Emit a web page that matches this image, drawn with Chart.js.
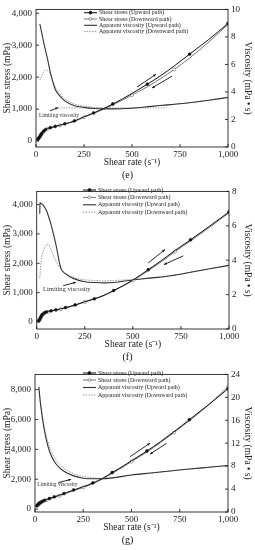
<!DOCTYPE html>
<html>
<head>
<meta charset="utf-8">
<script src="https://cdn.jsdelivr.net/npm/chart.js@4.4.0/dist/chart.umd.min.js"></script>
<style>
body{margin:0;background:#fff;width:255px;height:550px;overflow:hidden;position:relative}
.p{position:absolute;left:0;width:255px}
</style>
</head>
<body>
<div class="p" style="top:0"><canvas id="ce" width="255" height="182"></canvas></div>
<div class="p" style="top:182px"><canvas id="cf" width="255" height="183"></canvas></div>
<div class="p" style="top:365px"><canvas id="cg" width="255" height="185"></canvas></div>
<script>
// series names
const seriesLabels = ['Shear stress (Upward path)', 'Shear stress (Downward path)',
  'Apparent viscosity (Upward path)', 'Apparent viscosity (Downward path)'];

// shear rate (1/s) for the stress curves
const shearRates = [10,15,20,25,30,40,50,60,75,100,125,150,200,250,300,350,400,450,500,580,650,720,800,900,1000];
// rates where the markers are shown
const upMarks = [10,15,20,25,30,40,50,75,100,150,200,300,400,580,800,1000];
const downMarks = [10,15,20,25,30,40,60,125,250,500,720,1000];

// (e)
const stressUpE = [60,100,140,190,240,310,360,395,420,460,500,540,630,760,880,1010,1160,1320,1490,1780,2050,2350,2720,3180,3680];
const stressDownE = [50,90,130,180,230,300,350,385,410,450,490,530,615,745,865,990,1130,1280,1440,1700,1960,2240,2600,3100,3650];
const viscRatesE = [20,30,40,50,60,75,100,125,150,200,250,300,350,400,500,600,700,800,900,1000];
const viscUpE = [8.95,8.3,7.6,7.0,6.4,5.4,4.2,3.7,3.35,3.0,2.88,2.8,2.77,2.77,2.82,2.95,3.08,3.22,3.4,3.6];
const viscDownE = [4.85,5.2,5.45,5.6,5.55,5.3,4.35,3.85,3.5,3.12,2.98,2.88,2.82,2.8,2.82,2.95,3.08,3.22,3.4,3.6];
const limitRatesE = [115,680];
const limitViscE = [2.84,2.84];

// (f)
const stressUpF = [40,80,150,210,260,310,340,360,380,410,450,490,580,690,790,910,1070,1240,1430,1780,2100,2440,2800,3270,3750];
const stressDownF = [30,70,130,190,240,290,320,345,370,400,435,475,565,680,780,900,1060,1230,1410,1750,2060,2400,2760,3230,3720];
const viscRatesF = [16,17,20,30,40,50,60,75,100,125,150,200,250,300,350,400,500,600,700,800,900,1000];
const viscUpF = [6.7,7.35,7.3,7.25,7.1,6.9,6.6,6.05,4.9,3.55,3.2,2.9,2.75,2.7,2.68,2.7,2.85,2.97,3.1,3.3,3.5,3.7];
const viscDownF = [2.95,3.1,3.6,4.4,4.7,4.88,4.92,4.6,3.95,3.5,3.25,2.97,2.86,2.82,2.8,2.82,2.88,2.97,3.1,3.3,3.5,3.7];

// (g)
const stressUpG = [230,300,370,420,460,530,590,640,710,820,930,1040,1280,1500,1750,2060,2450,2830,3240,3890,4520,5180,5990,7000,8050];
const stressDownG = [200,270,330,380,420,490,550,600,670,780,890,1000,1230,1450,1700,2010,2390,2770,3180,3820,4450,5120,5920,6980,8200];
const viscRatesG = [20,25,30,40,50,60,75,100,125,150,200,250,300,350,400,500,600,700,800,900,1000];
const viscUpG = [21.8,20.0,18.5,16.0,14.0,12.4,10.6,8.8,7.8,7.1,6.3,5.9,5.8,5.8,5.95,6.45,6.8,7.15,7.5,7.8,8.1];
const viscDownG = [21.5,20.0,18.7,16.5,14.6,13.1,11.4,9.5,8.4,7.6,6.7,6.2,5.95,5.85,5.95,6.45,6.8,7.15,7.5,7.8,8.1];

// tick labels
const rateTicks = [0,250,500,750,1000];
const stressTicksE = [0,1000,2000,3000,4000];
const stressTicksF = [0,1000,2000,3000,4000];
const stressTicksG = [0,2000,4000,6000,8000];
const viscTicksE = [0,2,4,6,8,10];
const viscTicksF = [0,2,4,6,8];
const viscTicksG = [0,4,8,12,16,20,24];

const FONT = 'Liberation Serif';

function pts(xs, ys){ return xs.map((x,i)=>({x:x, y:ys[i]})); }
function marks(list, r){ return c => (c.raw && list.includes(c.raw.x)) ? r : 0; }

function arrow(ctx, x1, y1, x2, y2){
  ctx.beginPath(); ctx.moveTo(x1,y1); ctx.lineTo(x2,y2); ctx.stroke();
  const a = Math.atan2(y2-y1, x2-x1), h = 3;
  ctx.beginPath();
  ctx.moveTo(x2,y2);
  ctx.lineTo(x2 - h*Math.cos(a-0.4), y2 - h*Math.sin(a-0.4));
  ctx.lineTo(x2 - h*Math.cos(a+0.4), y2 - h*Math.sin(a+0.4));
  ctx.closePath(); ctx.fill();
}

// frame, inward ticks, legend box and the arrows/notes
const deco = {
  id: 'deco',
  afterDraw(chart, args, o){
    const ctx = chart.ctx, a = chart.chartArea;
    const sx = chart.scales.x, sy = chart.scales.y, sy2 = chart.scales.y2;
    ctx.save();
    ctx.strokeStyle = '#222'; ctx.lineWidth = 0.9;
    ctx.strokeRect(a.left, a.top, a.right-a.left, a.bottom-a.top);
    ctx.beginPath();
    sx.ticks.forEach(t=>{ const p = sx.getPixelForValue(t.value); ctx.moveTo(p,a.bottom); ctx.lineTo(p,a.bottom-3); });
    sy.ticks.forEach(t=>{ const p = sy.getPixelForValue(t.value); ctx.moveTo(a.left,p); ctx.lineTo(a.left+3,p); });
    sy2.ticks.forEach(t=>{ const p = sy2.getPixelForValue(t.value); ctx.moveTo(a.right,p); ctx.lineTo(a.right-3,p); });
    ctx.stroke();

    // legend
    ctx.font = '6px "' + FONT + '"';
    ctx.textBaseline = 'middle';
    ctx.fillStyle = '#222';
    for (let i=0;i<4;i++){
      const ds = chart.data.datasets[i];
      const y = o.legendRows[i];
      ctx.strokeStyle = ds.borderColor; ctx.lineWidth = ds.borderWidth;
      ctx.setLineDash(ds.borderDash || []);
      ctx.beginPath(); ctx.moveTo(o.legendX, y); ctx.lineTo(o.legendX+13, y); ctx.stroke();
      ctx.setLineDash([]);
      if (i<2){
        ctx.beginPath(); ctx.arc(o.legendX+6.5, y, 1.4, 0, Math.PI*2);
        ctx.fillStyle = ds.pointBackgroundColor; ctx.fill();
        ctx.strokeStyle = ds.pointBorderColor; ctx.lineWidth = 0.8; ctx.stroke();
      }
      ctx.fillStyle = '#222';
      ctx.fillText(ds.label, o.legendX+15, y);
    }

    // notes
    ctx.strokeStyle = '#111'; ctx.fillStyle = '#111'; ctx.lineWidth = 0.9;
    o.arrows.forEach(r=>{
      arrow(ctx, sx.getPixelForValue(r[0]), sy.getPixelForValue(r[1]),
                 sx.getPixelForValue(r[2]), sy.getPixelForValue(r[3]));
    });
    ctx.font = o.noteSize + 'px "' + FONT + '"';
    ctx.fillStyle = '#333';
    ctx.fillText('Limiting viscosity', sx.getPixelForValue(o.note[0]), sy.getPixelForValue(o.note[1]));
    ctx.restore();
  }
};

function makeChart(id, p){
  const datasets = [
    {label: seriesLabels[0], data: pts(shearRates, p.stressUp), yAxisID:'y',
     borderColor:'#111', borderWidth:1, pointRadius:marks(upMarks,1.4), pointBackgroundColor:'#111', pointBorderColor:'#111', pointBorderWidth:0.6},
    {label: seriesLabels[1], data: pts(shearRates, p.stressDown), yAxisID:'y',
     borderColor:'#666', borderWidth:0.9, pointRadius:marks(downMarks,1.5), pointBackgroundColor:'#fff', pointBorderColor:'#777', pointBorderWidth:0.7},
    {label: seriesLabels[2], data: pts(p.viscRates, p.viscUp), yAxisID:'y2',
     borderColor:'#333', borderWidth:1.1, pointRadius:0},
    {label: seriesLabels[3], data: pts(p.viscRates, p.viscDown), yAxisID:'y2',
     borderColor:'#999', borderWidth:1, borderDash:[1.5,1.2], pointRadius:0}
  ];
  if (p.limitRates) datasets.push({label:'', data: pts(p.limitRates, p.limitVisc), yAxisID:'y2',
     borderColor:'#999', borderWidth:0.9, borderDash:[1.5,1.2], pointRadius:0});

  const tickFont = {family: FONT, size: 9};
  const noGrid = {display:false, drawTicks:false, tickLength:0};
  return new Chart(document.getElementById(id), {
    type: 'line',
    data: {datasets: datasets},
    plugins: [deco],
    options: {
      responsive: false,
      animation: false,
      cubicInterpolationMode: 'monotone',
      layout: {padding: {top: p.top, left:0, right:0, bottom:0}},
      plugins: {
        legend: {display:false},
        tooltip: {enabled:false},
        title: {display:true, text:p.name, position:'bottom', color:'#111',
          font:{family:FONT, size:10, weight:'normal', lineHeight:1.2}, padding:{top:0, bottom:p.titlePad}},
        deco: {legendX: p.legendX, legendRows: p.legendRows, arrows: p.arrows, note: p.note, noteSize: p.noteSize}
      },
      scales: {
        x: {type:'linear', min:0, max:1000,
          afterBuildTicks: s=>{ s.ticks = rateTicks.map(v=>({value:v})); },
          afterFit: s=>{ s.height = 22; },
          grid:noGrid, border:{display:false},
          ticks:{font:tickFont, color:'#222', padding:2, maxRotation:0},
          title:{display:true, text:'Shear rate (s\u207B\u00B9)', color:'#222', font:{family:FONT, size:9.5, lineHeight:1.2}, padding:{top:0,bottom:1}}},
        y: {position:'left', min:p.yMin, max:p.yMax,
          afterBuildTicks: s=>{ s.ticks = p.stressTicks.map(v=>({value:v})); },
          afterFit: s=>{ s.width = p.leftW; },
          grid:noGrid, border:{display:false},
          ticks:{font:tickFont, color:'#222', padding:4},
          title:{display:true, text:'Shear stress (mPa)', color:'#222', font:{family:FONT, size:9.5, lineHeight:1.2}, padding:{top:2,bottom:0}}},
        y2: {position:'right', min:0, max:p.vMax,
          afterBuildTicks: s=>{ s.ticks = p.viscTicks.map(v=>({value:v})); },
          afterFit: s=>{ s.width = p.rightW; },
          grid:noGrid, border:{display:false},
          ticks:{font:tickFont, color:'#222', padding:3},
          title:{display:true, text:'Viscosity (mPa \u2022 s)', color:'#222', font:{family:FONT, size:9.5, lineHeight:1.2}, padding:{top:2,bottom:0}}}
      }
    }
  });
}

makeChart('ce', {name:'(e)', stressUp:stressUpE, stressDown:stressDownE, viscRates:viscRatesE, viscUp:viscUpE, viscDown:viscDownE,
  limitRates:limitRatesE, limitVisc:limitViscE,
  yMin:-185, yMax:4120, vMax:10, stressTicks:stressTicksE, viscTicks:viscTicksE,
  top:7, leftW:36, rightW:27, titlePad:1,
  legendX:84, legendRows:[12.7,19,25.3,31.6],
  arrows:[[526,1690,625,2090],[708,2030,604,1660],[73,950,115,1045]], note:[15,800], noteSize:5.5});

makeChart('cf', {name:'(f)', stressUp:stressUpF, stressDown:stressDownF, viscRates:viscRatesF, viscUp:viscUpF, viscDown:viscDownF,
  yMin:-240, yMax:4450, vMax:8, stressTicks:stressTicksF, viscTicks:viscTicksF,
  top:5, leftW:36.7, rightW:26, titlePad:2,
  legendX:83, legendRows:[8,15.4,22.8,30.2],
  arrows:[[580,2010,667,2469],[762,2252,662,1957],[138,1236,204,1354]], note:[33,1125], noteSize:6.5});

makeChart('cg', {name:'(g)', stressUp:stressUpG, stressDown:stressDownG, viscRates:viscRatesG, viscUp:viscUpG, viscDown:viscDownG,
  yMin:-195, yMax:9020, vMax:24, stressTicks:stressTicksG, viscTicks:viscTicksG,
  top:5, leftW:35, rightW:27, titlePad:4,
  legendX:83, legendRows:[8,15,22.5,30],
  arrows:[[492,3504,596,4413],[682,4413,596,3680],[121,1771,187,1992]], note:[12,1668], noteSize:5.5});
</script>
</body>
</html>
